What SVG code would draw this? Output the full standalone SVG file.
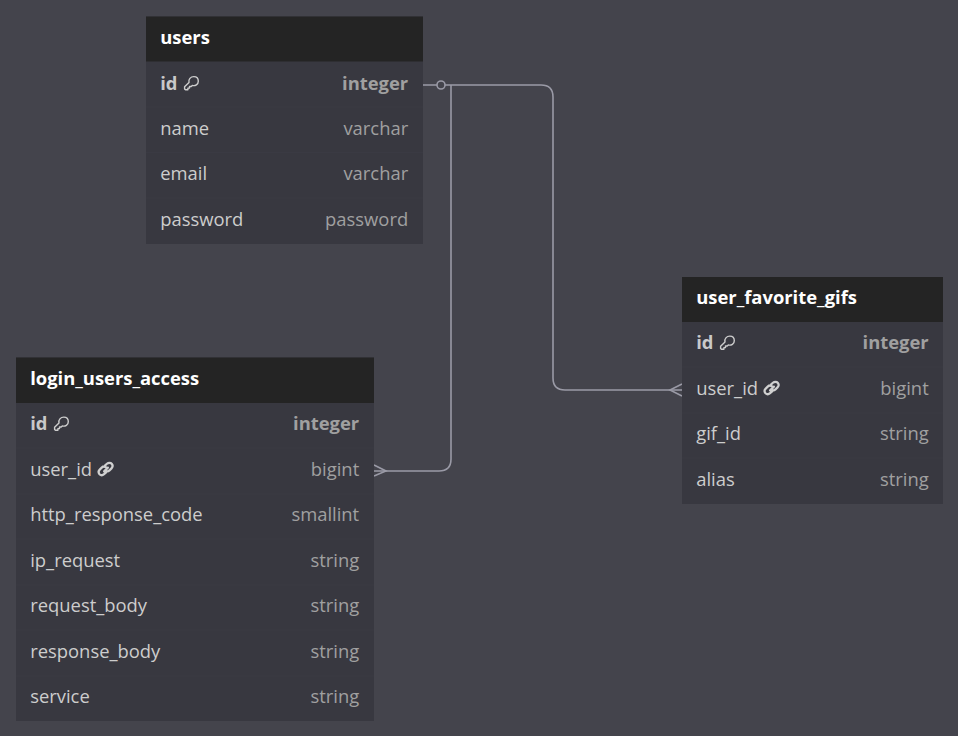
<svg xmlns="http://www.w3.org/2000/svg" width="958" height="736" viewBox="0 0 958 736">
<defs>
<style>
text{font-family:"Open Sans","Noto Sans",sans-serif;font-size:18.4px;letter-spacing:0}
.h{fill:#242424}.b{fill:#383840}.sep{stroke:#3d3d45;stroke-width:.6}
.t{font-weight:700;fill:#fff}.c{fill:#cdcdcd}.k{font-weight:700;fill:#c9c9c9}
.ty{fill:#a0a0a0;text-anchor:end}.tk{fill:#a0a0a0;font-weight:700;text-anchor:end}
.line{fill:none;stroke:#9a9aa6;stroke-width:1.6}
.ic{fill:none;stroke:#cdcdcd;stroke-width:1.4;stroke-linecap:round;stroke-linejoin:round}
.ln{fill:none;stroke:#d0d0d0;stroke-width:2.2;stroke-linecap:round;stroke-linejoin:round}
</style>
<g id="key"><path class="ic" d="M-5.500 6.800 L-6.400 5.900 L-6.400 3.700 L-2 -0.600 C-2.800 -3.700 -0.400 -6.400 2.800 -6.400 C5.500 -6.400 7.300 -4.400 7.300 -1.800 C7.300 1.300 4.200 3.300 1.300 2.400 L0.200 3.500 L-1.500 3.500 L-1.500 5.100 L-3.100 5.100 L-3.100 6.800 Z"/></g>
<g id="link"><path class="ln" d="M-1.400 2.400 L2.400 -1.400 M-0.600 -3.400 L1.400 -5.200 C3 -6.600 5.200 -6.400 6.200 -5.200 C7.400 -3.800 7.200 -1.800 6 -0.600 L4 1.400 C2.800 2.600 1 2.600 -0.200 1.600 M0.600 -1.600 C-0.600 -2.600 -2.600 -2.600 -3.800 -1.400 L-5.800 0.600 C-7 1.800 -7.200 3.800 -6 5.200 C-4.800 6.400 -3 6.600 -1.400 5.200 L0.600 3.400"/></g>
</defs>
<rect width="958" height="736" fill="#44444c"/>
<g id="connectors">
<path class="line" d="M423 85H437M445 85H541Q553 85 553 97V378Q553 390 565 390H682"/>
<circle class="line" cx="441" cy="85" r="4"/>
<path class="line" d="M451 85V459Q451 471 439 471H374"/>
<path class="line" d="M374 465L386 471L374 476"/>
<path class="line" d="M682 384L670 390L682 396"/>
</g>
<g id="users">
<rect class="b" x="146" y="16.500" width="277" height="227.500"/>
<rect class="h" x="146" y="16.500" width="277" height="45"/>
<path class="sep" d="M146 107H423M146 152.500H423M146 198H423"/>
<text class="t" x="160.200" y="44">users</text>
<text class="k" x="160.200" y="90">id</text><use href="#key" x="191" y="83"/>
<text class="tk" x="408.200" y="90">integer</text>
<text class="c" x="160.200" y="135">name</text><text class="ty" x="408.200" y="135">varchar</text>
<text class="c" x="160.200" y="180">email</text><text class="ty" x="408.200" y="180">varchar</text>
<text class="c" x="160.200" y="226">password</text><text class="ty" x="408.200" y="226">password</text>
</g>
<g id="user_favorite_gifs">
<rect class="b" x="682" y="277" width="261" height="227"/>
<rect class="h" x="682" y="277" width="261" height="45"/>
<path class="sep" d="M682 367H943M682 413H943M682 458H943"/>
<text class="t" x="696.200" y="304">user_favorite_gifs</text>
<text class="k" x="696.200" y="349">id</text><use href="#key" x="727" y="342.500"/>
<text class="tk" x="928.700" y="349">integer</text>
<text class="c" x="696.200" y="395">user_id</text><use href="#link" x="771.500" y="388"/><text class="ty" x="928.700" y="395">bigint</text>
<text class="c" x="696.200" y="440">gif_id</text><text class="ty" x="928.700" y="440">string</text>
<text class="c" x="696.200" y="486">alias</text><text class="ty" x="928.700" y="486">string</text>
</g>
<g id="login_users_access">
<rect class="b" x="16" y="357.500" width="358" height="363.500"/>
<rect class="h" x="16" y="357.500" width="358" height="45.500"/>
<path class="sep" d="M16 448H374M16 494H374M16 539H374M16 585H374M16 630H374M16 676H374"/>
<text class="t" x="30.200" y="385">login_users_access</text>
<text class="k" x="30.200" y="430">id</text><use href="#key" x="61" y="423.500"/>
<text class="tk" x="359.200" y="430">integer</text>
<text class="c" x="30.200" y="476">user_id</text><use href="#link" x="105.500" y="469"/><text class="ty" x="359.200" y="476">bigint</text>
<text class="c" x="30.200" y="521">http_response_code</text><text class="ty" x="359.200" y="521">smallint</text>
<text class="c" x="30.200" y="567">ip_request</text><text class="ty" x="359.200" y="567">string</text>
<text class="c" x="30.200" y="612">request_body</text><text class="ty" x="359.200" y="612">string</text>
<text class="c" x="30.200" y="658">response_body</text><text class="ty" x="359.200" y="658">string</text>
<text class="c" x="30.200" y="703">service</text><text class="ty" x="359.200" y="703">string</text>
</g>
</svg>
